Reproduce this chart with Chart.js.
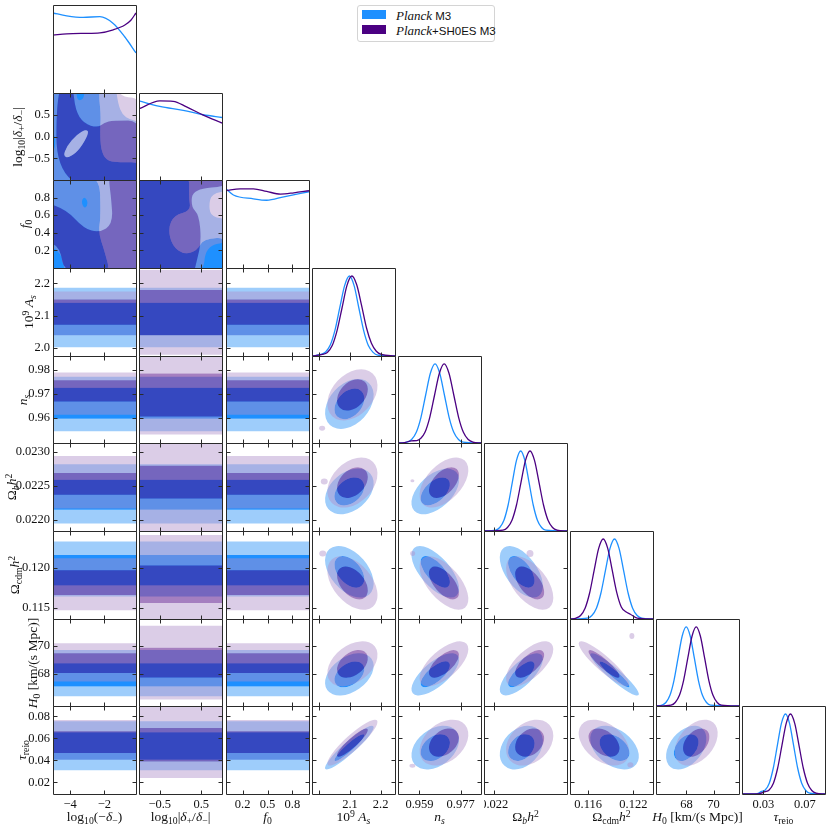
<!DOCTYPE html>
<html>
<head>
<meta charset="utf-8">
<script src="https://cdn.jsdelivr.net/npm/chart.js@4.4.0/dist/chart.umd.min.js"></script>
<style>
  body { margin: 0; background: #fff; }
  #fig { position: relative; width: 830px; height: 830px; overflow: hidden; }
  #fig canvas { position: absolute; }
  .t { position: absolute; font-family: 'Liberation Serif', serif; font-size: 13.5px; color: #111;
       white-space: nowrap; line-height: 1; transform: translate(-50%, -50%); }
  .t.rot { transform: translate(-50%, -50%) rotate(-90deg); }
  .sb { font-size: 72%; position: relative; top: 0.3em; }
  .sp { font-size: 72%; position: relative; top: -0.45em; }
  #legend { position: absolute; left: 357px; top: 5px; width: 136px; height: 35px;
            border: 1px solid #d4d4d4; border-radius: 3px; background: #fff; }
  #legend .sw { position: absolute; left: 4px; width: 24px; height: 9px; }
  #legend .lt { position: absolute; left: 38px; font-family: 'Liberation Sans', sans-serif; font-size: 11.5px;
                line-height: 1; color: #111; white-space: nowrap; }
  #legend .lt i { font-family: 'Liberation Serif', serif; font-size: 13px; }
</style>
</head>
<body>
<div id="fig">
  <div id="legend">
    <div class="sw" style="top:4px;background:#1E90FF"></div>
    <div class="lt" style="top:3px"><i>Planck</i> M3</div>
    <div class="sw" style="top:19px;background:#4B0082"></div>
    <div class="lt" style="top:18px"><i>Planck</i>+SH0ES M3</div>
  </div>
</div>
<script>
// parameters: log10(-d-), log10|d+/d-|, f0, 10^9 As, ns, ombh2, omch2, H0, tau_reio
const axisMin = [-5.0, -1.0, 0.0, 1.976, 0.9496, 0.02184, 0.1136, 65.75, 0.0095];
const axisMax = [-0.15, 1.0, 1.0, 2.247, 0.9859, 0.02313, 0.1246, 71.88, 0.0893];

const xTickVals = [[-4, -2], [-0.5, 0.5], [0.2, 0.5, 0.8], [2.0, 2.1, 2.2], [0.959, 0.977], [0.022], [0.116, 0.122], [68, 70], [0.03, 0.07]];
const xTickText = [['−4', '−2'], ['−0.5', '0.5'], ['0.2', '0.5', '0.8'], ['', '2.1', '2.2'], ['0.959', '0.977'], ['0.022'], ['0.116', '0.122'], ['68', '70'], ['0.03', '0.07']];
const yTickVals = [[], [-0.5, 0, 0.5], [0.2, 0.4, 0.6, 0.8], [2.0, 2.1, 2.2], [0.96, 0.97, 0.98], [0.0220, 0.0225, 0.0230], [0.115, 0.120], [68, 70], [0.02, 0.04, 0.06, 0.08]];
const yTickText = [[], ['−0.5', '0.0', '0.5'], ['0.2', '0.4', '0.6', '0.8'], ['2.0', '2.1', '2.2'], ['0.96', '0.97', '0.98'], ['0.0220', '0.0225', '0.0230'], ['0.115', '0.120'], ['68', '70'], ['0.02', '0.04', '0.06', '0.08']];

const titleHtml = [
  'log<span class="sb">10</span>(−<i>δ</i><span class="sb">−</span>)',
  'log<span class="sb">10</span>|<i>δ</i><span class="sb">+</span>/<i>δ</i><span class="sb">−</span>|',
  '<i>f</i><span class="sb">0</span>',
  '10<span class="sp">9</span> <i>A<span class="sb">s</span></i>',
  '<i>n<span class="sb">s</span></i>',
  'Ω<span class="sb"><i>b</i></span><i>h</i><span class="sp">2</span>',
  'Ω<span class="sb">cdm</span><i>h</i><span class="sp">2</span>',
  '<i>H</i><span class="sb">0</span> [km/(s Mpc)]',
  '<i>τ</i><span class="sb">reio</span>'
];

// 1D marginals (normalised to peak 1)
const blueGridX = [
  [-5, -4.2, -3.24, -2.26, -1.48, -0.8, -0.15],
  [-1, -0.5, 0.065, 0.548, 1],
  [0, 0.089, 0.33, 0.49, 0.696, 1],
  [1.976, 2.005, 2.0205, 2.036, 2.0515, 2.067, 2.0825, 2.098, 2.1135, 2.129, 2.1445, 2.160, 2.1755, 2.191, 2.247],
  [0.9496, 0.9535, 0.95555, 0.9576, 0.95965, 0.9617, 0.96375, 0.9658, 0.96785, 0.9699, 0.97195, 0.974, 0.97605, 0.9781, 0.9859],
  [0.02184, 0.02202, 0.022085, 0.02215, 0.022215, 0.02228, 0.022345, 0.02241, 0.022475, 0.02254, 0.022605, 0.02267, 0.022735, 0.0228, 0.02313],
  [0.1136, 0.1159, 0.1165, 0.1171, 0.1177, 0.1183, 0.1189, 0.1195, 0.1201, 0.1207, 0.1213, 0.1219, 0.1225, 0.1231, 0.1246],
  [65.75, 66.18, 66.48, 66.78, 67.08, 67.38, 67.68, 67.98, 68.28, 68.58, 68.88, 69.18, 69.48, 69.78, 71.88],
  [0.0095, 0.0240, 0.0279, 0.0318, 0.0357, 0.0396, 0.0435, 0.0474, 0.0513, 0.0552, 0.0591, 0.063, 0.0669, 0.0708, 0.0747, 0.0893]
];
const blueDens = [
  [1.0, 0.965, 0.946, 0.954, 0.87, 0.70, 0.5],
  [1.0, 0.93, 0.88, 0.825, 0.79],
  [0.99, 0.913, 0.865, 0.847, 0.89, 0.953],
  [0, 0.02, 0.05, 0.14, 0.33, 0.61, 0.88, 1.0, 0.88, 0.6, 0.32, 0.13, 0.045, 0.012, 0],
  [0, 0.011, 0.044, 0.135, 0.325, 0.607, 0.882, 1, 0.882, 0.607, 0.325, 0.135, 0.044, 0.011, 0],
  [0, 0.011, 0.044, 0.135, 0.325, 0.607, 0.882, 1, 0.882, 0.607, 0.325, 0.135, 0.044, 0.011, 0],
  [0, 0.011, 0.044, 0.135, 0.325, 0.607, 0.882, 1, 0.882, 0.607, 0.325, 0.135, 0.044, 0.011, 0],
  [0, 0.011, 0.044, 0.135, 0.325, 0.607, 0.882, 1, 0.882, 0.607, 0.325, 0.135, 0.044, 0.011, 0],
  [0, 0.005, 0.03, 0.05, 0.135, 0.325, 0.607, 0.882, 1, 0.882, 0.607, 0.325, 0.135, 0.044, 0.011, 0]
];
const purpleGridX = [
  [-5, -4.2, -3.24, -2.26, -1.48, -0.8, -0.45, -0.15],
  [-1, -0.5, -0.177, 0.145, 0.548, 1],
  [0, 0.17, 0.33, 0.49, 0.656, 0.818, 1],
  [1.976, 2.010, 2.026, 2.042, 2.058, 2.074, 2.090, 2.106, 2.122, 2.138, 2.154, 2.170, 2.186, 2.202, 2.247],
  [0.9496, 0.9525, 0.9555, 0.9578, 0.9596, 0.9614, 0.9635, 0.9656, 0.9677, 0.9698, 0.9719, 0.974, 0.9761, 0.9782, 0.9803, 0.9824, 0.9859],
  [0.02184, 0.022135, 0.022205, 0.022275, 0.022345, 0.022415, 0.022485, 0.022555, 0.022625, 0.022695, 0.022765, 0.022835, 0.022905, 0.022975, 0.02313],
  [0.1136, 0.1144, 0.1150, 0.1156, 0.1162, 0.1168, 0.1174, 0.1180, 0.1186, 0.1192, 0.1198, 0.1204, 0.1210, 0.1216, 0.1225, 0.1246],
  [65.75, 66.86, 67.17, 67.48, 67.79, 68.10, 68.41, 68.72, 69.03, 69.34, 69.65, 69.96, 70.27, 70.58, 71.88],
  [0.0095, 0.0260, 0.0315, 0.0356, 0.0397, 0.0438, 0.0479, 0.0520, 0.0561, 0.0602, 0.0643, 0.0684, 0.0725, 0.0766, 0.0807, 0.0893]
];
const purpleDens = [
  [0.724, 0.738, 0.745, 0.752, 0.79, 0.85, 0.91, 1.0],
  [0.9, 1.0, 0.995, 0.924, 0.82, 0.72],
  [0.966, 0.99, 0.99, 0.957, 0.924, 0.94, 0.966],
  [0, 0.02, 0.045, 0.13, 0.32, 0.6, 0.88, 1.0, 0.89, 0.63, 0.35, 0.16, 0.06, 0.02, 0],
  [0, 0.005, 0.028, 0.03, 0.06, 0.135, 0.325, 0.607, 0.882, 1, 0.882, 0.607, 0.325, 0.135, 0.044, 0.011, 0],
  [0, 0.011, 0.044, 0.135, 0.325, 0.607, 0.882, 1, 0.882, 0.607, 0.325, 0.135, 0.044, 0.011, 0],
  [0, 0.011, 0.044, 0.135, 0.325, 0.607, 0.882, 1, 0.882, 0.607, 0.33, 0.15, 0.09, 0.06, 0.01, 0],
  [0, 0.011, 0.044, 0.135, 0.325, 0.607, 0.882, 1, 0.882, 0.607, 0.325, 0.135, 0.044, 0.011, 0],
  [0, 0.005, 0.03, 0.05, 0.135, 0.325, 0.607, 0.882, 1, 0.882, 0.607, 0.325, 0.135, 0.044, 0.011, 0]
];

// 2D contours of the constrained parameters: centre, width, correlation
const blueMean = [null, null, null, 2.098, 0.9659, 0.02242, 0.1195, 67.98, 0.0516];
const blueSig = [null, null, null, 0.032, 0.0042, 0.000135, 0.0013, 0.60, 0.0080];
const purpleMean = [null, null, null, 2.108, 0.9697, 0.02255, 0.1181, 68.72, 0.0561];
const purpleSig = [null, null, null, 0.033, 0.0043, 0.000148, 0.00135, 0.64, 0.0084];
// [row, col, rho blue, rho purple]
const corrPairs = [
  [4, 3, 0.35, 0.35], [5, 3, 0.35, 0.35], [5, 4, 0.5, 0.5],
  [6, 3, -0.45, -0.45], [6, 4, -0.65, -0.6], [6, 5, -0.55, -0.55],
  [7, 3, 0.4, 0.4], [7, 4, 0.7, 0.65], [7, 5, 0.72, 0.65], [7, 6, -0.93, -0.9],
  [8, 3, 0.93, 0.9], [8, 4, 0.35, 0.35], [8, 5, 0.3, 0.3], [8, 6, -0.4, -0.4], [8, 7, 0.4, 0.4]
];
// sqrt(delta chi2) of the 68% / 95% levels
const levelRadius = [1.52, 2.48];
// stray 95% islands of the second run [row, col, x, y, half width, half height]
const purpleIslands = [
  [4, 3, 2.009, 0.9558, 0.0098, 0.00104], [5, 3, 2.016, 0.022566, 0.0114, 0.000044],
  [5, 4, 0.9559, 0.022576, 0.00087, 0.000022], [6, 3, 2.011, 0.1218, 0.0114, 0.000375],
  [6, 4, 0.956, 0.1218, 0.0011, 0.00031], [6, 5, 0.022555, 0.1218, 0.000054, 0.00044],
  [7, 6, 0.1218, 70.68, 0.00033, 0.21], [8, 4, 0.9559, 0.0352, 0.0013, 0.0018],
  [8, 6, 0.1216, 0.0361, 0.0004, 0.0023]
];

// bands against the unconstrained parameters [lo95, lo68, hi68, hi95]
const blueBand = [null, null, null,
  [2.003, 2.040, 2.140, 2.186], [0.9545, 0.9597, 0.9727, 0.9772], [0.02195, 0.02215, 0.02259, 0.02282],
  [0.1164, 0.1178, 0.1216, 0.1233], [66.43, 67.13, 68.77, 69.7], [0.031, 0.0406, 0.0655, 0.0755]];
const purpleBand = [null, null, null,
  [2.040, 2.072, 2.150, 2.175], [0.9614, 0.9669, 0.9758, 0.9790], [0.02217, 0.02237, 0.02269, 0.02294],
  [0.1147, 0.1166, 0.1197, 0.1212], [67.48, 68.07, 69.47, 70.17], [0.0405, 0.0467, 0.0665, 0.0765]];
const purpleBandWide = [null, null, null,
  [1.98, 2.04, 2.179, 2.241], [0.9531, 0.9607, 0.9786, 0.9855], [0.021825, 0.022315, 0.022795, 0.023285],
  [0.1118, 0.1156, 0.1203, 0.1241], [66.2, 67.75, 69.85, 71.4], [0.024, 0.039, 0.0694, 0.089]];

// contour outlines among the three unconstrained parameters [row, col, run, level, points]
const blobShapes = [
  [1, 0, 'blue', 95, [[-5.5, -1.2], [-5.5, -1.2], [0.3, -1.2], [0.3, -1.2], [0.3, 0.33], [-0.5, 0.38], [-0.95, 0.5], [-1.2, 0.75], [-1.35, 1.2], [-5.5, 1.2], [-5.5, 1.2]]],
  [1, 0, 'blue', 68, [[-5.5, -1.2], [-5.5, -1.2], [0.3, -1.2], [0.3, -1.2], [0.3, -0.58], [-1.2, -0.6], [-1.9, -0.55], [-2.2, -0.3], [-2.25, 0.1], [-2.2, 0.5], [-2.3, 0.85], [-2.3, 1.2], [-5.5, 1.2], [-5.5, 1.2]]],
  [1, 0, 'blue', 68, [[-4.41, -0.47], [-4.0, -0.48], [-3.4, -0.28], [-2.9, 0.08], [-3.05, 0.17], [-3.6, 0.05], [-4.2, -0.22]]],
  [1, 0, 'purple', 95, [[-5.5, -1.2], [-5.5, -1.2], [0.3, -1.2], [0.3, -1.2], [0.3, 0.88], [-1.0, 0.9], [-1.38, 1.2], [-5.5, 1.2], [-5.5, 1.2]]],
  [1, 0, 'purple', 95, [[-3.65, 1.1], [-3.15, 1.1], [-3.2, 0.88], [-3.45, 0.82], [-3.6, 0.88]]],
  [1, 0, 'purple', 95, [[-5.3, 0.1], [-4.9, 0.05], [-4.85, -0.15], [-4.95, -0.33], [-5.3, -0.35]]],
  [1, 0, 'purple', 68, [[-4.8, -1.2], [0.3, -1.2], [0.3, -1.2], [0.3, 0.37], [-1.5, 0.37], [-2.0, 0.32], [-2.4, 0.2], [-3.2, 0.3], [-3.7, 0.6], [-3.85, 1.2], [-4.8, 1.2]]],
  [1, 0, 'purple', 68, [[-4.41, -0.47], [-4.0, -0.48], [-3.4, -0.28], [-2.9, 0.08], [-3.05, 0.17], [-3.6, 0.05], [-4.2, -0.22]]],
  [2, 0, 'blue', 95, [[-5.5, -0.1], [-5.5, -0.1], [0.3, -0.1], [0.3, -0.1], [0.3, 1.1], [0.3, 1.1], [-5.5, 1.1], [-5.5, 1.1]]],
  [2, 0, 'blue', 68, [[-5.5, -0.1], [-5.5, -0.1], [-1.6, -0.1], [-2.0, 0.2], [-2.35, 0.4], [-2.2, 0.6], [-2.3, 1.1], [-5.5, 1.1], [-5.5, 1.1]]],
  [2, 0, 'purple', 95, [[-5.5, -0.1], [-5.5, -0.1], [0.3, -0.1], [0.3, -0.1], [0.3, 1.1], [0.3, 1.1], [-5.5, 1.1], [-5.5, 1.1]]],
  [2, 0, 'purple', 95, [[-3.34, 0.75], [-3.2, 0.81], [-2.98, 0.77], [-3.0, 0.7], [-3.2, 0.68]]],
  [2, 0, 'purple', 95, [[-5.5, -0.1], [-4.3, -0.1], [-4.4, 0.1], [-4.8, 0.22], [-5.5, 0.25]]],
  [2, 0, 'purple', 68, [[-4.3, -0.1], [0.3, -0.1], [0.3, -0.1], [0.3, 1.1], [0.3, 1.1], [-1.8, 1.1], [-1.6, 0.8], [-1.5, 0.5], [-2.3, 0.4], [-3.2, 0.45], [-4.2, 0.66], [-5.5, 0.75], [-5.5, 0.3], [-4.6, 0.25]]],
  [2, 1, 'blue', 95, [[-1.2, -0.1], [-1.2, -0.1], [1.2, -0.1], [1.2, -0.1], [1.2, 0.55], [0.75, 0.58], [0.68, 0.7], [0.75, 0.85], [1.2, 0.88], [1.2, 1.1], [1.2, 1.1], [-1.2, 1.1], [-1.2, 1.1]]],
  [2, 1, 'blue', 68, [[-1.2, -0.1], [-1.2, -0.1], [1.2, -0.1], [1.2, -0.1], [1.2, 0.35], [0.55, 0.33], [0.4, 0.2], [0.1, 0.15], [-0.2, 0.25], [-0.3, 0.45], [-0.15, 0.6], [0.25, 0.65], [0.2, 0.8], [0.22, 1.1], [-1.2, 1.1], [-1.2, 1.1]]],
  [2, 1, 'purple', 95, [[-1.2, -0.1], [-1.2, -0.1], [0.55, -0.1], [0.6, 0.25], [1.2, 0.3], [1.2, 0.56], [0.95, 0.6], [1.2, 0.68], [1.2, 1.1], [1.2, 1.1], [-1.2, 1.1], [-1.2, 1.1]]],
  [2, 1, 'purple', 68, [[-1.2, -0.1], [-1.2, -0.1], [0.3, -0.1], [0.4, 0.1], [0.5, 0.3], [0.45, 0.6], [0.25, 0.7], [0.3, 0.9], [1.2, 0.93], [1.2, 1.1], [1.2, 1.1], [-1.2, 1.1], [-1.2, 1.1]]]
];

const BLUE = '#1E90FF', PURPLE = '#4B0082';
const B95 = 'rgb(158,205,251)', B68 = 'rgb(30,144,255)';
const P95 = 'rgba(175,145,202,0.45)', P68 = 'rgba(75,0,130,0.5)';

// panel grid in page pixels
const colLeft = [53, 139, 226, 312, 398, 484, 570, 656, 742];
const panelW = 83;
const rowTop = [5, 93, 180, 268, 356, 443, 531, 619, 706];
const rowBot = [93, 180, 268, 356, 443, 531, 619, 706, 794];
const leftTitleX = [0, 18, 25, 29, 23, 12, 15, 33, 22];

const runs = [
  { name: 'blue', mean: blueMean, sig: blueSig, band: blueBand, c95: B95, c68: B68 },
  { name: 'purple', mean: purpleMean, sig: purpleSig, band: purpleBand, c95: P95, c68: P68 }
];

function addSmooth(ctx, xs, ys, pts) {
  const p = pts.map(([x, y]) => [xs.getPixelForValue(x), ys.getPixelForValue(y)]);
  const n = p.length;
  const mid = (a, b) => [(a[0] + b[0]) / 2, (a[1] + b[1]) / 2];
  const m = mid(p[n - 1], p[0]);
  ctx.moveTo(m[0], m[1]);
  for (let k = 0; k < n; k++) {
    const nm = mid(p[k], p[(k + 1) % n]);
    ctx.quadraticCurveTo(p[k][0], p[k][1], nm[0], nm[1]);
  }
  ctx.closePath();
}

function addBand(ctx, xs, ys, lo, hi) {
  const y0 = ys.getPixelForValue(hi), y1 = ys.getPixelForValue(lo);
  ctx.rect(xs.left - 2, y0, xs.right - xs.left + 4, y1 - y0);
}

function addEllipse(ctx, xs, ys, mx, my, sx, sy, rho, r) {
  const px = xs.getPixelForValue(mx), py = ys.getPixelForValue(my);
  const kx = xs.getPixelForValue(mx + sx) - px, ky = ys.getPixelForValue(my + sy) - py;
  const a = kx * kx, c = ky * ky, b = rho * kx * ky;
  const th = 0.5 * Math.atan2(2 * b, a - c);
  const d = Math.sqrt((a - c) * (a - c) / 4 + b * b);
  const r1 = r * Math.sqrt((a + c) / 2 + d), r2 = r * Math.sqrt(Math.max((a + c) / 2 - d, 0.01));
  ctx.moveTo(px + r1 * Math.cos(th), py + r1 * Math.sin(th));
  ctx.ellipse(px, py, r1, r2, th, 0, 2 * Math.PI);
}

function drawRegions(ctx, xs, ys, i, j) {
  runs.forEach((s, si) => {
    let add95, add68;
    if (i <= 2) {
      const shapes = blobShapes.filter(r => r[0] === i && r[1] === j && r[2] === s.name);
      add95 = () => shapes.filter(r => r[3] === 95).forEach(r => addSmooth(ctx, xs, ys, r[4]));
      add68 = () => shapes.filter(r => r[3] === 68).forEach(r => addSmooth(ctx, xs, ys, r[4]));
    } else if (j <= 2) {
      const b = (s.name === 'purple' && j === 1) ? purpleBandWide[i] : s.band[i];
      add95 = () => addBand(ctx, xs, ys, b[0], b[3]);
      add68 = () => addBand(ctx, xs, ys, b[1], b[2]);
    } else {
      const rho = corrPairs.find(c => c[0] === i && c[1] === j)[2 + si];
      add95 = () => addEllipse(ctx, xs, ys, s.mean[j], s.mean[i], s.sig[j], s.sig[i], rho, levelRadius[1]);
      add68 = () => addEllipse(ctx, xs, ys, s.mean[j], s.mean[i], s.sig[j], s.sig[i], rho, levelRadius[0]);
    }
    // 95% annulus, then the 68% core
    ctx.beginPath(); add95(); add68();
    ctx.fillStyle = s.c95; ctx.fill('evenodd');
    ctx.beginPath(); add68();
    ctx.fillStyle = s.c68; ctx.fill('evenodd');

    if (s.name === 'purple') {
      purpleIslands.filter(r => r[0] === i && r[1] === j).forEach(r => {
        const px = xs.getPixelForValue(r[2]), py = ys.getPixelForValue(r[3]);
        const rx = Math.abs(xs.getPixelForValue(r[2] + r[4]) - px);
        const ry = Math.abs(ys.getPixelForValue(r[3] + r[5]) - py);
        ctx.beginPath(); ctx.ellipse(px, py, rx, ry, 0, 0, 2 * Math.PI);
        ctx.fillStyle = P95; ctx.fill();
      });
    }
  });
}

function drawFrame(chart, i, j) {
  const { ctx, chartArea: a } = chart;
  const xs = chart.scales.x, ys = chart.scales.y;
  const L = a.left + 0.5, R = a.right + 0.5, T = a.top + 0.5, B = a.bottom + 0.5;
  const tl = 4;
  ctx.save();
  ctx.strokeStyle = '#2a2a2a';
  ctx.lineWidth = 1;
  ctx.beginPath();
  ctx.rect(L, T, R - L, B - T);
  ctx.stroke();
  ctx.beginPath();
  xTickVals[j].forEach(v => {
    const px = Math.round(xs.getPixelForValue(v)) + 0.5;
    ctx.moveTo(px, B); ctx.lineTo(px, B - tl);
    if (i !== j) { ctx.moveTo(px, T); ctx.lineTo(px, T + tl); }
  });
  if (i !== j) {
    yTickVals[i].forEach(v => {
      const py = Math.round(ys.getPixelForValue(v)) + 0.5;
      ctx.moveTo(L, py); ctx.lineTo(L + tl, py);
      ctx.moveTo(R, py); ctx.lineTo(R - tl, py);
    });
  }
  ctx.stroke();
  ctx.restore();
}

const cornerPlugin = {
  id: 'corner',
  beforeDatasetsDraw(chart, args, o) {
    if (o.i === o.j) return;
    const { ctx, chartArea: a } = chart;
    ctx.save();
    ctx.beginPath();
    ctx.rect(a.left, a.top, a.right - a.left, a.bottom - a.top);
    ctx.clip();
    drawRegions(ctx, chart.scales.x, chart.scales.y, o.i, o.j);
    ctx.restore();
  },
  afterDraw(chart, args, o) { drawFrame(chart, o.i, o.j); }
};

function diagSets(p) {
  const line = (xs, ys, color) => ({
    data: xs.map((x, k) => ({ x, y: ys[k] })),
    borderColor: color, borderWidth: 1.3, pointRadius: 0,
    cubicInterpolationMode: 'monotone', fill: false
  });
  // purple first so it is drawn on top
  return [line(purpleGridX[p], purpleDens[p], PURPLE), line(blueGridX[p], blueDens[p], BLUE)];
}

const fig = document.getElementById('fig');
const tickFont = { family: 'Liberation Serif', size: 12.5 };

function makePanel(i, j) {
  const diag = i === j;
  const padL = (j === 0 && i > 0) ? 52 : 0;
  const padB = i === 8 ? 18 : 0;
  const h = rowBot[i] - rowTop[i];
  const cv = document.createElement('canvas');
  cv.width = panelW + padL + 1;
  cv.height = h + padB + 1;
  cv.style.left = (colLeft[j] - padL) + 'px';
  cv.style.top = rowTop[i] + 'px';
  fig.appendChild(cv);

  new Chart(cv, {
    type: diag ? 'line' : 'scatter',
    data: { datasets: diag ? diagSets(j) : [] },
    options: {
      responsive: false,
      animation: false,
      events: [],
      layout: { padding: { left: 0, top: 0, right: 1, bottom: 1 } },
      plugins: { legend: { display: false }, tooltip: { enabled: false }, corner: { i, j } },
      scales: {
        x: {
          type: 'linear', min: axisMin[j], max: axisMax[j], display: i === 8,
          grid: { display: false, drawTicks: false }, border: { display: false },
          afterBuildTicks: s => { s.ticks = xTickVals[j].map(v => ({ value: v })); },
          afterFit: s => { s.height = padB; s.paddingLeft = 0; s.paddingRight = 0; },
          ticks: { autoSkip: false, maxRotation: 0, minRotation: 0, padding: 3, color: '#111', font: tickFont,
                   callback: (v, k) => xTickText[j][k] }
        },
        y: {
          type: 'linear', min: diag ? 0 : axisMin[i], max: diag ? 1.1 : axisMax[i], display: padL > 0,
          grid: { display: false, drawTicks: false }, border: { display: false },
          afterBuildTicks: s => { if (!diag) s.ticks = yTickVals[i].map(v => ({ value: v })); },
          afterFit: s => { s.width = padL; s.paddingTop = 0; s.paddingBottom = 0; },
          ticks: { autoSkip: false, padding: 3, color: '#111', font: tickFont,
                   callback: (v, k) => yTickText[i][k] }
        }
      }
    },
    plugins: [cornerPlugin]
  });
}

for (let i = 0; i < 9; i++) {
  for (let j = 0; j <= i; j++) makePanel(i, j);
}

// axis titles
function addTitle(html, x, y, rot) {
  const d = document.createElement('div');
  d.className = rot ? 't rot' : 't';
  d.innerHTML = html;
  d.style.left = x + 'px';
  d.style.top = y + 'px';
  fig.appendChild(d);
}
for (let j = 0; j < 9; j++) addTitle(titleHtml[j], colLeft[j] + panelW / 2, 817, false);
for (let i = 1; i < 9; i++) addTitle(titleHtml[i], leftTitleX[i], (rowTop[i] + rowBot[i]) / 2, true);
fig.appendChild(document.getElementById('legend'));
</script>
</body>
</html>
